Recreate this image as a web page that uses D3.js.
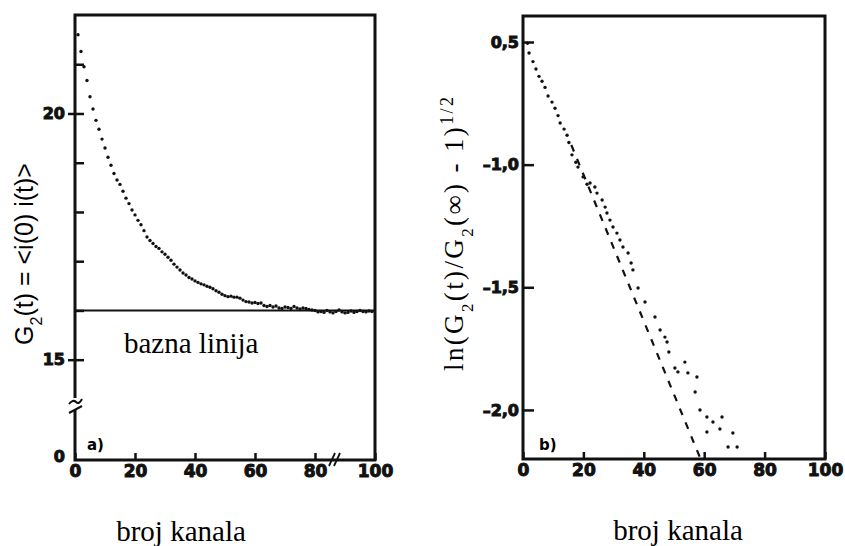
<!DOCTYPE html>
<html>
<head>
<meta charset="utf-8">
<script src="https://cdn.jsdelivr.net/npm/d3@7"></script>
<style>
  body { margin: 0; background: #fff; }
  svg { display: block; }
  .tick line { stroke: #111; stroke-width: 2.5; }
</style>
</head>
<body>
<script>
const svgWidth = 845,
    svgHeight = 546;

// panel a) : G2(t) versus channel number
var channelsA = d3.range(1, 100);
var valuesA = [
    21.60, 21.26, 20.95, 20.67, 20.34, 20.09, 19.86, 19.68, 19.48, 19.30,
    19.11, 18.95, 18.78, 18.65, 18.56, 18.42, 18.28, 18.17, 18.04, 17.94,
    17.83, 17.74, 17.62, 17.49, 17.42, 17.36, 17.30, 17.26, 17.19, 17.14,
    17.08, 17.02, 16.94, 16.88, 16.82, 16.76, 16.72, 16.67, 16.64, 16.60,
    16.57, 16.54, 16.52, 16.49, 16.47, 16.44, 16.40, 16.37, 16.33, 16.30,
    16.28, 16.29, 16.27, 16.27, 16.25, 16.21, 16.18, 16.17, 16.15, 16.16,
    16.14, 16.15, 16.10, 16.08, 16.10, 16.07, 16.09, 16.05, 16.04, 16.07,
    16.06, 16.04, 16.08, 16.05, 16.03, 16.05, 16.04, 16.02, 16.01, 16.00,
    15.97, 15.98, 15.96, 16.00, 15.97, 15.95, 15.98, 16.01, 15.97, 15.95,
    15.96, 15.99, 15.96, 15.98, 16.00, 15.98, 15.97, 15.99, 15.98
];
var baseline = 16;
var yTicksA = [15, 16, 17, 18, 19, 20, 21];
var yLabelsA = [0, 15, 20];
var xTicks = [0, 20, 40, 60, 80, 100];

// panel b) : ln(G2(t)/G2(inf) - 1)^1/2 versus channel number
var channelsB = [1.5, 2, 3.3, 4.3, 5.3, 6.3, 7.3, 8.3, 9.6, 10.6, 11.6, 12.3, 13.6, 14.6, 15.2,
    16.2, 17.5, 18.2, 19.9, 21.2, 22.2, 23.8, 24.5, 26.2, 27.2, 27.8, 28.8, 29.8, 31.1, 32.1,
    33.1, 34.8, 35.8, 36.4, 38.1, 40.4, 43.7, 45.4, 47.0, 47.7, 48.3, 50.3, 51.3, 53.6, 54.6,
    57.6, 57.0, 58.6, 60.9, 62.9, 65.9, 60.9, 65.2, 69.5, 67.9, 70.9];
var valuesB = [-0.505, -0.545, -0.58, -0.61, -0.64, -0.66, -0.685, -0.72, -0.745, -0.77, -0.80, -0.83, -0.855, -0.88, -0.91,
    -0.96, -0.99, -1.01, -1.05, -1.08, -1.075, -1.091, -1.116, -1.144, -1.173, -1.197, -1.226, -1.254, -1.279, -1.307,
    -1.336, -1.360, -1.401, -1.429, -1.503, -1.560, -1.621, -1.674, -1.703, -1.723, -1.764, -1.829, -1.845, -1.805, -1.849,
    -1.866, -1.927, -2.000, -2.029, -2.049, -2.029, -2.090, -2.078, -2.094, -2.151, -2.151];
var fitCh = [16, 58.8];
var fitVal = [-0.92, -2.2];
var yTicksB = [-0.5, -1.0, -1.5, -2.0];
var yLabelsB = ["0,5", "\u20131,0", "\u20131,5", "\u20132,0"];

var svg = d3.select("body").append("svg")
    .attr("width", svgWidth)
    .attr("height", svgHeight);

// heavy tick labels, like the original's black grotesque digits
function boldTicks(g, size) {
    g.selectAll("text")
        .style("font-family", "'DejaVu Sans', sans-serif")
        .style("font-weight", "bold")
        .style("font-size", size + "px")
        .style("fill", "#111")
        .style("stroke", "#111")
        .style("stroke-width", "1px")
        .style("paint-order", "stroke");
}

// ---------- panel a ----------
var xA = d3.scaleLinear().domain([0, 100]).range([75, 375]);
var yA = d3.scaleLinear().domain([0, 14.1, 22]).range([460, 404, 15]);

var gA = svg.append("g");

gA.append("g")
    .attr("transform", "translate(0," + yA(0) + ")")
    .call(d3.axisBottom(xA).tickValues(xTicks).tickSizeInner(-7).tickSizeOuter(0).tickPadding(5))
    .call(g => g.select(".domain").remove())
    .call(g => boldTicks(g, 17));

gA.append("g")
    .attr("transform", "translate(" + xA(0) + ",0)")
    .call(d3.axisLeft(yA).tickValues(yTicksA).tickSize(-9).tickFormat(""))
    .call(g => g.select(".domain").remove());

gA.append("g")
    .attr("transform", "translate(" + xA(0) + ",0)")
    .call(d3.axisLeft(yA).tickValues(yLabelsA).tickSize(7).tickPadding(3))
    .call(g => g.select(".domain").remove())
    .call(g => g.selectAll(".tick").filter(d => d === 0).select("line").remove())
    .call(g => g.selectAll(".tick").filter(d => d === 0).select("text").attr("dy", "0.1em"))
    .call(g => boldTicks(g, 16));

// frame with broken left axis
var frameA = d3.path();
frameA.moveTo(xA(0), 398);
frameA.lineTo(xA(0), yA(22));
frameA.lineTo(xA(100), yA(22));
frameA.lineTo(xA(100), yA(0));
frameA.lineTo(xA(0), yA(0));
frameA.lineTo(xA(0), 410);
gA.append("path").attr("d", frameA.toString())
    .attr("fill", "none").attr("stroke", "#111").attr("stroke-width", 3);

gA.append("path").attr("d", "M69,404 Q73,399 76,402 T82,399 M69,413 L82,406")
    .attr("fill", "none").attr("stroke", "#111").attr("stroke-width", 2);
gA.append("path").attr("d", "M329,466 L335,453 M334,466 L340,453")
    .attr("fill", "none").attr("stroke", "#111").attr("stroke-width", 1.8);

gA.append("line")
    .attr("x1", xA(0)).attr("x2", xA(100))
    .attr("y1", yA(baseline)).attr("y2", yA(baseline))
    .attr("stroke", "#111").attr("stroke-width", 2);

gA.append("g").selectAll("circle")
    .data(channelsA).enter()
    .append("circle")
    .attr("cx", (d, i) => xA(d))
    .attr("cy", (d, i) => yA(valuesA[i]))
    .attr("r", 1.7)
    .attr("fill", "#111");

gA.append("text").attr("x", 87).attr("y", 450)
    .style("font-family", "DejaVu Sans").style("font-weight", "bold").style("font-size", "15px")
    .text("a)");

gA.append("text").attr("x", 124).attr("y", 353)
    .style("font-family", "Liberation Serif").style("font-size", "29px")
    .text("bazna linija");

var labA = gA.append("text")
    .attr("transform", "translate(33,254) rotate(-90)")
    .attr("text-anchor", "middle")
    .style("font-family", "Liberation Sans").style("font-size", "25px");
labA.append("tspan").text("G");
labA.append("tspan").attr("baseline-shift", "sub").style("font-size", "16px").text("2");
labA.append("tspan").text("(t) = <i(0) i(t)>");

gA.append("text").attr("x", 181).attr("y", 541).attr("text-anchor", "middle")
    .style("font-family", "Liberation Serif").style("font-size", "29px")
    .text("broj kanala");

// ---------- panel b ----------
var xB = d3.scaleLinear().domain([0, 100]).range([523, 825]);
var yB = d3.scaleLinear().domain([-2.2, -0.394]).range([459, 16]);

var gB = svg.append("g");

gB.append("g")
    .attr("transform", "translate(0," + yB(-2.2) + ")")
    .call(d3.axisBottom(xB).tickValues(xTicks).tickSizeInner(-7).tickSizeOuter(0).tickPadding(5))
    .call(g => g.select(".domain").remove())
    .call(g => boldTicks(g, 17));

gB.append("g")
    .attr("transform", "translate(" + xB(0) + ",0)")
    .call(d3.axisLeft(yB).tickValues(yTicksB).tickSize(-11).tickPadding(4)
        .tickFormat((d, i) => yLabelsB[i]))
    .call(g => g.select(".domain").remove())
    .call(g => boldTicks(g, 16));

gB.append("rect")
    .attr("x", xB(0)).attr("y", yB(-0.394))
    .attr("width", xB(100) - xB(0)).attr("height", yB(-2.2) - yB(-0.394))
    .attr("fill", "none").attr("stroke", "#111").attr("stroke-width", 3);

gB.append("path")
    .attr("d", d3.line()(fitCh.map((c, i) => [xB(c), yB(fitVal[i])])))
    .attr("fill", "none").attr("stroke", "#111").attr("stroke-width", 2.2)
    .attr("stroke-dasharray", "7,8");

gB.append("g").selectAll("circle")
    .data(channelsB).enter()
    .append("circle")
    .attr("cx", d => xB(d))
    .attr("cy", (d, i) => yB(valuesB[i]))
    .attr("r", 1.7)
    .attr("fill", "#111");

gB.append("text").attr("x", 539).attr("y", 450)
    .style("font-family", "DejaVu Sans").style("font-weight", "bold").style("font-size", "15px")
    .text("b)");

var labB = gB.append("text")
    .attr("transform", "translate(463,234) rotate(-90)")
    .attr("text-anchor", "middle")
    .attr("textLength", 274)
    .attr("lengthAdjust", "spacing")
    .style("font-family", "Liberation Serif").style("font-size", "27px");
labB.append("tspan").text("ln(G");
labB.append("tspan").attr("baseline-shift", "sub").style("font-size", "17px").text("2");
labB.append("tspan").text("(t)/G");
labB.append("tspan").attr("baseline-shift", "sub").style("font-size", "17px").text("2");
labB.append("tspan").text("(\u221E) - 1)");
labB.append("tspan").attr("baseline-shift", "super").style("font-size", "18px").text("1/2");

gB.append("text").attr("x", 678).attr("y", 540).attr("text-anchor", "middle")
    .style("font-family", "Liberation Serif").style("font-size", "29px")
    .text("broj kanala");
</script>
</body>
</html>
